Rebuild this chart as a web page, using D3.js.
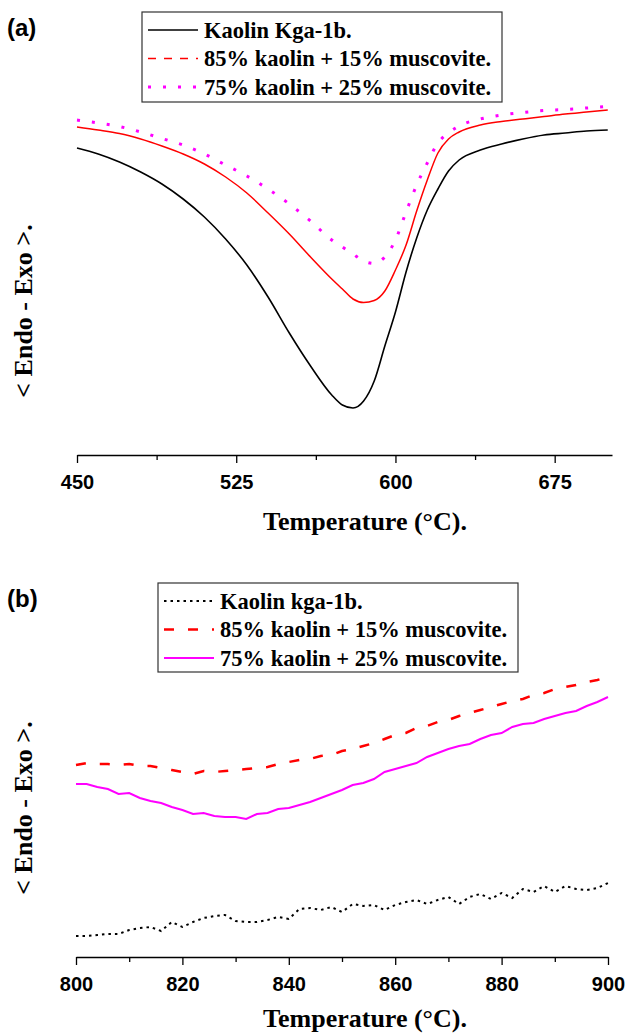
<!DOCTYPE html>
<html>
<head>
<meta charset="utf-8">
<script src="https://cdn.jsdelivr.net/npm/d3@7"></script>
<style>
  body { margin: 0; background: #fff; }
  .tick text { font-family: "Liberation Sans", Arial, sans-serif; font-weight: bold; font-size: 20px; }
</style>
</head>
<body>
<script>
// panel (a) temperatures and DTA signal (arbitrary units, up = exo)
var tempA = [450,460,470,480,490,500,510,520,530,540,550,560,570,575,580,585,590,595,600,605,610,615,620,625,630,640,650,660,670,680,690,700];
var kaolinA = [307,301,293,283,271,256,238,216,190,158,122,89,60,50,47,54,74,109,143,183,217,245,266,284,295,305,311,316,320,322,324,325];
var mix85A = [328,325,321.5,316,309,301,291,278,262,242,221,198,176,166,156,152.5,154.5,164,185,210,244,275,302,316,323,330,333.5,336,338.5,341,343,345];
var mix75A = [335,332,328.5,323,316.5,310,301,290,279,266,251,234,215,208,201,194,191.5,198,215,243,270,292,312,322,329,336,340,342.5,344.5,345.5,347,348.5];

// panel (b)
var tempB = [800,802,804,806,808,810,812,814,816,818,820,822,824,826,828,830,832,834,836,838,840,842,844,846,848,850,852,854,856,858,860,862,864,866,868,870,872,874,876,878,880,882,884,886,888,890,892,894,896,898,900];
var kaolinB = [21,21,22,23,23,27,29,30,26,35,30,35,39,41,42,36,35,35,37,40,38,48,49,47,50,45,53,51,52,47,52,55,57,53,57,60,53,60,63,58,64,59,68,65,71,65,71,68,67,69,74];
var mix85B = [192,194,193,193,192,193,191,191,189,187,185,183,186,185,186,187,188,189,190,193,195,197,198,201,202,206,208,211,214,218,222,224,229,231,235,237,241,244,247,250,253,256,258,262,264,268,270,272,275,277,280];
var mix75B = [173,173,170,168,163,164,159,156,154,150,147,143,144,141,140,140,138,143,144,148,149,152,155,159,163,167,172,174,178,185,188,191,194,200,204,208,211,213,218,222,224,230,233,234,238,241,244,246,251,255,260];

var ticksA = [450,525,600,675];
var minorA = [487.5,562.5,637.5];
var ticksB = [800,820,840,860,880,900];
var minorB = [810,830,850,870,890];

var legendA = ["Kaolin Kga-1b.", "85% kaolin + 15% muscovite.", "75% kaolin + 25% muscovite."];
var legendB = ["Kaolin kga-1b.", "85% kaolin + 15% muscovite.", "75% kaolin + 25% muscovite."];

var svg = d3.select("body").append("svg")
            .attr("width", 630)
            .attr("height", 1035);

var serif = "'Liberation Serif', 'Times New Roman', serif";
var sans = "'Liberation Sans', Arial, sans-serif";

function panel(o) {
  var x = d3.scaleLinear().domain(o.xdom).range(o.xr);
  var y = d3.scaleLinear().domain([0, 350]).range([o.base, o.base - 350]);

  // minor ticks
  svg.append("g")
     .attr("transform", "translate(0," + o.base + ")")
     .call(d3.axisBottom(x).tickValues(o.minor).tickSize(5).tickFormat(""))
     .call(function (g) { g.select(".domain").remove(); })
     .selectAll("line").attr("stroke-width", 1.3);

  var ax = svg.append("g")
     .attr("transform", "translate(0," + o.base + ")")
     .call(d3.axisBottom(x).tickValues(o.ticks).tickSize(8).tickSizeOuter(0).tickPadding(12).tickFormat(d3.format("d")));
  ax.select(".domain").attr("stroke-width", 1.5);
  ax.selectAll("line").attr("stroke-width", 1.3);

  var line = d3.line()
               .x(function (d) { return x(d[0]); })
               .y(function (d) { return y(d[1]); })
               .curve(o.curve);

  o.series.forEach(function (s) {
    svg.append("path")
       .datum(o.temps.map(function (t, i) { return [t, s.values[i]]; }))
       .attr("d", line)
       .attr("fill", "none")
       .attr("stroke", s.color)
       .attr("stroke-width", s.width)
       .attr("stroke-dasharray", s.dash);
  });

  // legend
  var lg = svg.append("g");
  lg.append("rect")
    .attr("x", o.leg[0]).attr("y", o.leg[1])
    .attr("width", o.leg[2]).attr("height", o.leg[3])
    .attr("fill", "#fff").attr("stroke", "#333").attr("stroke-width", 1.2);
  o.series.forEach(function (s, i) {
    var ly = o.leg[1] + 18 + i * 28.5;
    lg.append("line")
      .attr("x1", o.leg[0] + 6).attr("x2", o.leg[0] + 56)
      .attr("y1", ly).attr("y2", ly)
      .attr("stroke", s.color).attr("stroke-width", s.width)
      .attr("stroke-dasharray", s.legDash || s.dash);
    lg.append("text")
      .attr("x", o.leg[0] + 62).attr("y", ly + 7.5)
      .attr("font-family", serif).attr("font-weight", "bold").attr("font-size", 22.5)
      .text(o.labels[i]);
  });

  svg.append("text")
     .attr("x", 7).attr("y", o.tag[1])
     .attr("font-family", sans).attr("font-weight", "bold").attr("font-size", 24)
     .text(o.tag[0]);

  svg.append("text")
     .attr("x", 365).attr("y", o.base + o.titleDy)
     .attr("text-anchor", "middle")
     .attr("font-family", serif).attr("font-weight", "bold").attr("font-size", 26)
     .text("Temperature (\u00B0C).");

  svg.append("text")
     .attr("transform", "translate(32," + o.ylabY + ") rotate(-90)")
     .attr("text-anchor", "middle")
     .attr("font-family", serif).attr("font-weight", "bold").attr("font-size", 26)
     .text("< Endo - Exo >.");
}

panel({
  xdom: [450, 702], xr: [77, 612], base: 455,
  ticks: ticksA, minor: minorA, temps: tempA,
  curve: d3.curveMonotoneX,
  series: [
    { values: kaolinA, color: "#000", width: 1.6, dash: null },
    { values: mix85A, color: "#f00", width: 1.5, dash: null, legDash: "8,8" },
    { values: mix75A, color: "#f0f", width: 3, dash: "3,12" }
  ],
  labels: legendA,
  leg: [142, 12, 360, 90],
  tag: ["(a)", 36],
  titleDy: 75,
  ylabY: 311
});

panel({
  xdom: [800, 900], xr: [76, 608], base: 957,
  ticks: ticksB, minor: minorB, temps: tempB,
  curve: d3.curveLinear,
  series: [
    { values: kaolinB, color: "#000", width: 2, dash: "2.5,4" },
    { values: mix85B, color: "#f00", width: 2.5, dash: "10,14" },
    { values: mix75B, color: "#f0f", width: 2, dash: null }
  ],
  labels: legendB,
  leg: [158, 583, 360, 89],
  tag: ["(b)", 607],
  titleDy: 70,
  ylabY: 808
});
</script>
</body>
</html>
